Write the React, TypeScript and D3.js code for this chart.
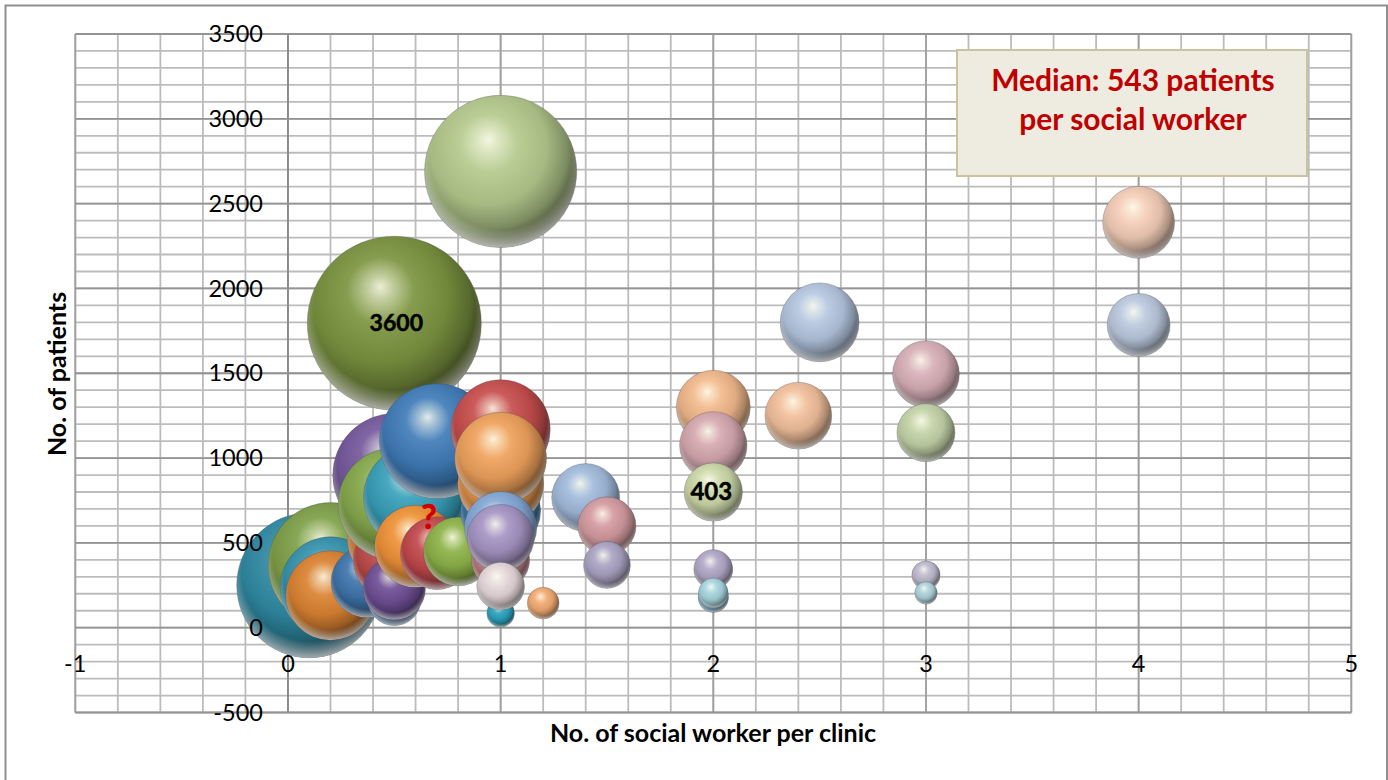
import React, { useEffect } from 'react';
import * as d3 from 'd3';

// tick labels
const xTicks = [-1, 0, 1, 2, 3, 4, 5];
const yTicks = [-500, 0, 500, 1000, 1500, 2000, 2500, 3000, 3500];

// bubbles in drawing order (back to front)
const workers = [
  1, 0.5,
  0.1, 0.2, 0.2, 0.2, 0.37, 0.5, 0.5, 0.5, 0.5, 0.5, 0.5, 0.6, 0.7, 0.6, 0.7, 0.8,
  1, 1, 1, 1, 1, 1, 1, 1, 1, 1, 1.2,
  1.4, 1.5, 1.5, 2, 2, 2, 2, 2, 2, 2.4, 2.5, 3, 3, 3, 3, 4, 4,
];
const patients = [
  2690, 1795,
  250, 370, 240, 190, 270, 525, 400, 170, 230, 900, 730, 770, 1100, 480, 440, 450,
  1170, 690, 850, 1000, 400, 250, 85, 590, 530, 245, 145,
  767, 600, 370, 1300, 1075, 800, 345, 180, 205, 1250, 1800, 1495, 1150, 310, 205, 2390, 1785,
];
const perWorker = [
  2750, 3600,
  2500, 1850, 1200, 950, 600, 1050, 800, 340, 460, 1800, 1500, 1290, 1570, 800, 630, 565,
  1170, 760, 880, 1000, 400, 200, 90, 620, 530, 270, 120,
  550, 400, 260, 650, 540, 403, 180, 110, 105, 530, 740, 530, 400, 95, 60, 615, 470,
];
const bubbleColors = [
  '#b3c98c', '#7b9440',
  '#2f8aa3', '#7fa048', '#3593ad', '#da8232', '#3f75ad', '#e08a3c', '#bd4a48', '#5f8cc0', '#6f4f96', '#75599c', '#86a94c', '#38a0ba', '#3f7cb8', '#ef9238', '#c2484c', '#8db248',
  '#c84e4e', '#3a78b0', '#e8954a', '#f0a25c', '#c08088', '#5a6fae', '#2ba3c0', '#84a8d6', '#a694c4', '#e6d8da', '#f2ab72',
  '#a2bbdc', '#d49ba0', '#aba4c4', '#f2b98c', '#d6a9b0', '#ccd8a8', '#b2a8c8', '#7cb8d0', '#a8d6e0', '#f2c09c', '#b4c6e0', '#d8b0b8', '#c4d4a8', '#c0bcd0', '#b0d4dc', '#f4cdb8', '#bccae0',
];
const bubbleLabels: [number, string][] = [[1, '3600'], [34, '403']];

const noteLines = ['Median: 543 patients', 'per social worker'];

const width = 1388;
const height = 780;
const font = 'Lato, "Open Sans", sans-serif';

const x = d3.scaleLinear().domain([-1, 5]).range([75.3, 1351.3]);
const y = d3.scaleLinear().domain([-500, 3500]).range([712.5, 34]);
const r = d3.scaleSqrt().domain([0, 3600]).range([0, 87]);

const minorX = d3.range(-1, 5.001, 0.2);
const minorY = d3.range(-500, 3501, 100);

function shade(c: string, t: number, to: string) {
  return d3.interpolateRgb(c, to)(t);
}

const App: React.FC = () => {
  useEffect(() => {
    document.body.style.margin = '0';
    document.body.style.background = '#fff';
  }, []);

  return (
    <svg width={width} height={height} viewBox={`0 0 ${width} ${height}`} style={{ display: 'block', position: 'absolute', left: 0, top: 0 }} fontFamily={font}>
      <defs>
        {bubbleColors.map((c, i) => (
          <radialGradient key={i} id={`ball-${i}`} cx="0.42" cy="0.38" r="0.74" fx="0.42" fy="0.29">
            <stop offset="0" stopColor={shade(c, 0.85, '#fffff0')} />
            <stop offset="0.09" stopColor={shade(c, 0.55, '#fffff0')} />
            <stop offset="0.26" stopColor={shade(c, 0.08, '#ffffff')} />
            <stop offset="0.52" stopColor={shade(c, 0.08, '#000000')} />
            <stop offset="0.7" stopColor={shade(c, 0.3, '#000000')} />
            <stop offset="0.84" stopColor={shade(c, 0.62, '#000000')} />
            <stop offset="1" stopColor={shade(c, 0.9, '#000000')} />
          </radialGradient>
        ))}
        <radialGradient id="rim" cx="0.5" cy="0.42" r="0.58">
          <stop offset="0.8" stopColor="#fff" stopOpacity="0" />
          <stop offset="1" stopColor="#fff" stopOpacity="0.6" />
        </radialGradient>
      </defs>

      {/* outer chart frame, bottom edge is cut off */}
      <path d={`M5.5,${height} V5.5 H1387 V${height}`} fill="none" stroke="#8f8f8f" strokeWidth={2} />

      {minorX.map((v, i) => (
        <line key={i} x1={x(v)} x2={x(v)} y1={y(3500)} y2={y(-500)} stroke="#bcbcbc" strokeWidth={1.8} />
      ))}
      {minorY.map((v, i) => (
        <line key={i} x1={x(-1)} x2={x(5)} y1={y(v)} y2={y(v)} stroke="#bcbcbc" strokeWidth={1.8} />
      ))}
      {xTicks.map(v => (
        <line key={v} x1={x(v)} x2={x(v)} y1={y(3500)} y2={y(-500)} stroke={v === 0 ? '#868686' : '#a0a0a0'} strokeWidth={1.8} />
      ))}
      {yTicks.map(v => (
        <line key={v} x1={x(-1)} x2={x(5)} y1={y(v)} y2={y(v)} stroke="#949494" strokeWidth={1.8} />
      ))}

      {workers.map((w, i) => (
        <g key={i}>
          <circle cx={x(w)} cy={y(patients[i])} r={r(perWorker[i])} fill={`url(#ball-${i})`} stroke="rgba(60,60,70,0.35)" strokeWidth={0.8} />
          <circle cx={x(w)} cy={y(patients[i])} r={r(perWorker[i])} fill="url(#rim)" />
        </g>
      ))}

      {yTicks.map(v => (
        <text key={v} x={x(0) - 25} y={y(v)} dy="0.35em" textAnchor="end" fontSize={23.5} fill="#000">{v}</text>
      ))}
      {xTicks.map(v => (
        <text key={v} x={x(v)} y={y(0) + 36} textAnchor="middle" fontSize={23.5} fill="#000" dy="0.35em">{v}</text>
      ))}

      {bubbleLabels.map(([k, label]) => (
        <text key={k} x={x(workers[k]) - (k === 1 ? -2 : 2)} y={y(patients[k])} dy="0.35em" textAnchor="middle" fontSize={k === 1 ? 23 : 24} fontWeight={700} stroke="#000" strokeWidth={0.5} fill="#000">{label}</text>
      ))}
      <text x={429} y={517} dy="0.35em" textAnchor="middle" fontSize={34} fontWeight={700} stroke="#d00000" strokeWidth={0.6} fill="#d00000">?</text>

      <rect x={957} y={50} width={350} height={126} fill="#eeece1" stroke="#c9c4a0" strokeWidth={2} />
      {noteLines.map((t, i) => (
        <text key={t} x={1133} y={80 + i * 39} dy="0.35em" textAnchor="middle" fontSize={30} fontWeight={700} fill="#c00000">{t}</text>
      ))}

      <text transform="translate(57,374) rotate(-90)" dy="0.35em" textAnchor="middle" fontSize={25} fontWeight={700} fill="#000">No. of patients</text>
      <text x={713} y={733} dy="0.35em" textAnchor="middle" fontSize={25} fontWeight={700} fill="#000">No. of social worker per clinic</text>
    </svg>
  );
};

export default App;
